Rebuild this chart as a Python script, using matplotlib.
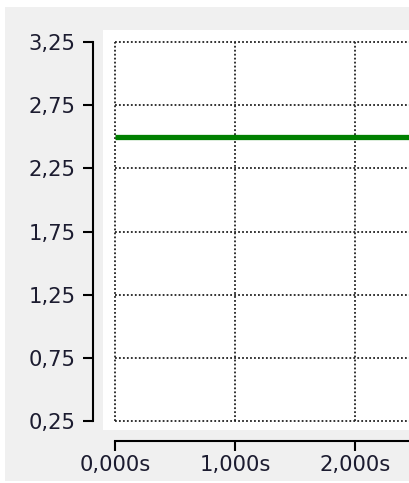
import matplotlib
matplotlib.use('Agg')
import matplotlib.pyplot as plt
from matplotlib.patches import Rectangle

# Signal level over time
timeVals = [0.0, 2.45]
levelVals = [2.5, 2.5]

yTicks = [0.25, 0.75, 1.25, 1.75, 2.25, 2.75, 3.25]
yLabels = ['0,25', '0,75', '1,25', '1,75', '2,25', '2,75', '3,25']
xTicks = [0, 1, 2]
xLabels = ['0,000s', '1,000s', '2,000s']

def plotLevel(outFig):
   '''Plots a single trace against time in a scope-style panel:
      gray frame, white plot box, dotted grid and detached axes.'''
   W, H = 409, 483
   fig = plt.figure(figsize=(W/100, H/100), dpi=100, facecolor='white')

   # helper to turn top-left pixel boxes into figure fractions
   def box(x0, y0, x1, y1):
      return (x0/W, 1 - y1/H), (x1 - x0)/W, (y1 - y0)/H

   xy, w, h = box(5, 7, 409, 481)
   fig.patches.append(Rectangle(xy, w, h, transform=fig.transFigure,
                                facecolor='#f0f0f0', edgecolor='none', zorder=-2))
   xy, w, h = box(103, 30, 409, 430)
   fig.patches.append(Rectangle(xy, w, h, transform=fig.transFigure,
                                facecolor='white', edgecolor='none', zorder=-1))

   # data area: x=0 at px 115, y from 3.25 (px 42) to 0.25 (px 421)
   (l, b), w, h = box(115, 42, 409, 421)
   ax = fig.add_axes([l, b, w, h])
   ax.set_zorder(2)
   ax.set_facecolor('white')
   ax.set_xlim(0, (409 - 115)/120.0)
   ax.set_ylim(0.25, 3.25)

   ax.plot(timeVals, levelVals, color='#008000', linewidth=3.8,
           solid_capstyle='butt', zorder=3)

   ax.set_yticks(yTicks)
   ax.set_yticklabels(yLabels)
   ax.set_xticks(xTicks)
   ax.set_xticklabels(xLabels)

   txtColor = '#1c1c30'
   ax.tick_params(axis='both', direction='out', length=7, width=1.5,
                  color='black', labelsize=15.2, labelcolor=txtColor)
   ax.tick_params(axis='y', pad=5.5)
   ax.tick_params(axis='x', pad=3)

   # detached spines, only left and bottom
   ax.spines['top'].set_visible(False)
   ax.spines['right'].set_visible(False)
   ax.spines['left'].set_position(('outward', 15.8))
   ax.spines['bottom'].set_position(('outward', 14.4))
   for s in ['left', 'bottom']:
      ax.spines[s].set_linewidth(1.5)
      ax.spines[s].set_color('black')

   ax.grid(True, color='#222222', linestyle=(0, (1, 1.2)), linewidth=1.3)
   for gl in ax.get_xgridlines() + ax.get_ygridlines():
      gl.set_clip_on(False)
   ax.set_axisbelow(True)

   fig.savefig(outFig, dpi=100, facecolor=fig.get_facecolor())
   return

def main():
   plotLevel('out.png')

if __name__ == '__main__':
   main()
